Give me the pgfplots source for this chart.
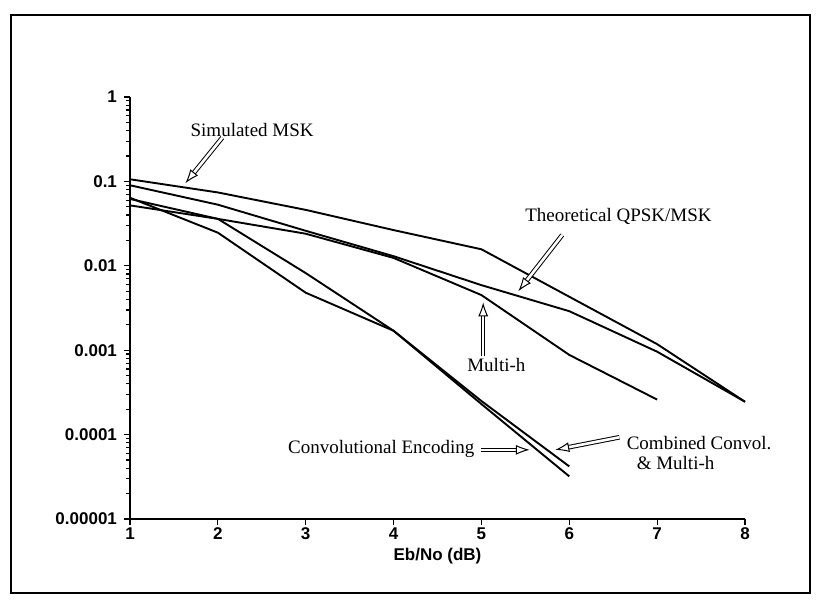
\documentclass[border=0pt]{standalone}
\usepackage{pgfplots}
\pgfplotsset{compat=1.18}
\usepackage{fontspec}
\setmainfont{Liberation Serif}
\newfontfamily\tickfont{Liberation Sans}
\usetikzlibrary{arrows.meta}
\begin{document}
\begin{tikzpicture}
\path[use as bounding box] (0pt,0pt) rectangle (408.5pt,-300pt);
\draw[line width=1.1pt] (5.5pt,-7.5pt) rectangle (405pt,-296.5pt);
\begin{axis}[
  at={(65pt,-259.5pt)}, anchor=south west,
  scale only axis, width=307.5pt, height=211pt,
  ymode=log, xmin=1, xmax=8, ymin=1e-5, ymax=1,
  axis lines=left, axis line style={-, line width=1pt},
  tick align=outside, major tick length=3pt, minor tick length=2pt,
  every tick/.style={black, line width=0.6pt},
  xtick={1,2,3,4,5,6,7,8}, xticklabels={1,2,3,4,5,6,7,8},
  ytick={1e-5,1e-4,1e-3,1e-2,1e-1,1},
  yticklabels={0.00001,0.0001,0.001,0.01,0.1,1},
  ticklabel style={font=\tickfont\bfseries\fontsize{8.5}{10}\selectfont},
  xticklabel style={yshift=2pt},
  xlabel={Eb/No (dB)}, xlabel style={font=\tickfont\bfseries\fontsize{8.5}{10}\selectfont, yshift=3pt},
  clip=false,
  every axis plot post/.append style={black, line width=0.95pt, mark=none},
]
% Simulated MSK
\addplot coordinates {(1,0.106) (2,0.074) (3,0.046) (4,0.0265) (5,0.0157) (6,0.0043) (7,0.00118) (8,0.000245)};
% Theoretical QPSK/MSK
\addplot coordinates {(1,0.09) (2,0.053) (3,0.026) (4,0.013) (5,0.0059) (6,0.0029) (7,0.00096) (8,0.000245)};
% Multi-h
\addplot coordinates {(1,0.052) (2,0.036) (3,0.024) (4,0.0124) (5,0.0045) (6,0.00088) (7,0.00026)};
% Combined Convol. & Multi-h
\addplot coordinates {(1,0.062) (2,0.036) (3,0.0082) (4,0.0017) (5,0.00025) (6,0.000042)};
% Convolutional Encoding
\addplot coordinates {(1,0.064) (2,0.0247) (3,0.0048) (4,0.0017) (5,0.00023) (6,0.000032)};

\tikzset{hollow/.style={double, double distance=1.3pt, line width=0.5pt, -{Latex[open,length=7pt,width=5pt]}}}
\node[font=\fontsize{9.5}{11}\selectfont] at (axis cs:2.39,0.41) {Simulated MSK};
\draw[hollow] (axis cs:2.05,0.33) -- (axis cs:1.63,0.095);
\node[font=\fontsize{9.5}{11}\selectfont] at (axis cs:6.56,0.038) {Theoretical QPSK/MSK};
\draw[hollow] (axis cs:5.92,0.0232) -- (axis cs:5.42,0.0050);
\node[font=\fontsize{9.5}{11}\selectfont] at (axis cs:5.17,0.00066) {Multi-h};
\draw[hollow] (axis cs:5.02,0.00085) -- (axis cs:5.02,0.0037);
\node[font=\fontsize{9.5}{11}\selectfont] at (axis cs:3.86,0.000068) {Convolutional Encoding};
\draw[hollow] (axis cs:5.0,0.000066) -- (axis cs:5.55,0.000066);
\node[font=\fontsize{9.5}{11}\selectfont, align=left, anchor=west, inner sep=0pt] at (axis cs:6.65,0.000061) {Combined Convol.\\[-1pt]\hspace{5pt}\& Multi-h};
\draw[hollow] (axis cs:6.57,0.000093) -- (axis cs:5.84,0.000066);
\end{axis}
\end{tikzpicture}
\end{document}
